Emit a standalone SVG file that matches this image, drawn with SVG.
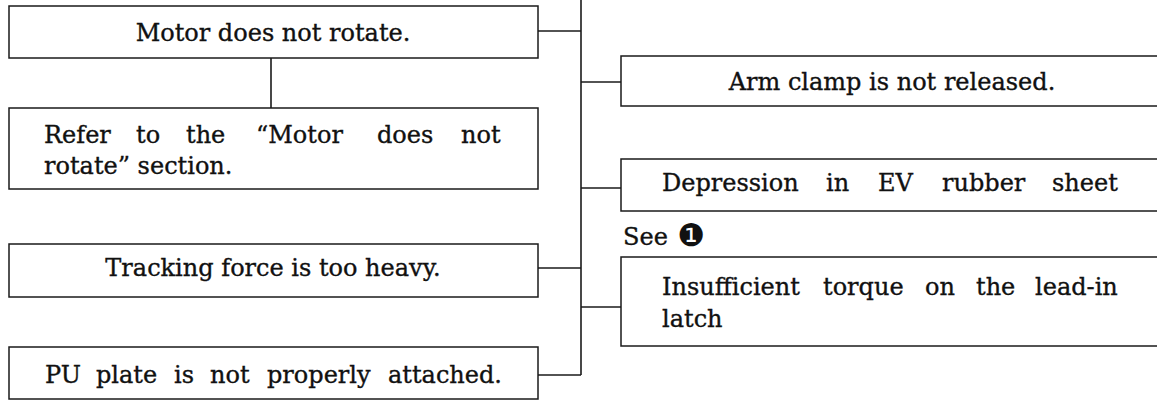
<svg xmlns="http://www.w3.org/2000/svg" width="1157" height="400" viewBox="0 0 1157 400">
<style>
.box{fill:#fff;stroke:#1a1a1a;stroke-width:1.5}
.ln{fill:none;stroke:#1a1a1a;stroke-width:1.6}
.t{font-family:"DejaVu Serif","Liberation Serif",serif;font-size:24px;fill:#111;stroke:#111;stroke-width:0.35}
.c{text-anchor:middle}
</style>
<rect width="1157" height="400" fill="#fff"/>
<g id="connectors">
<path class="ln" d="M581 0V375"/>
<path class="ln" d="M538 31H581"/>
<path class="ln" d="M538 268H581"/>
<path class="ln" d="M538 375H581"/>
<path class="ln" d="M581 82H621"/>
<path class="ln" d="M581 188H621"/>
<path class="ln" d="M581 307H621"/>
<path class="ln" d="M271 58V108" stroke-width="1.2"/>
</g>
<g id="motor">
<rect class="box" x="9" y="6" width="529" height="52"/>
<text class="t c" x="273" y="41">Motor does not rotate.</text>
</g>
<g id="refer">
<rect class="box" x="9" y="108" width="529" height="81"/>
<text class="t" y="143"><tspan x="44">Refer</tspan><tspan x="136">to</tspan><tspan x="186">the</tspan><tspan x="256">“Motor</tspan><tspan x="377">does</tspan><tspan x="461">not</tspan></text>
<text class="t" x="44" y="174">rotate” section.</text>
</g>
<g id="tracking">
<rect class="box" x="9" y="244" width="529" height="53"/>
<text class="t c" x="273" y="276">Tracking force is too heavy.</text>
</g>
<g id="pu">
<rect class="box" x="9" y="347" width="529" height="52"/>
<text class="t" y="383"><tspan x="45">PU</tspan><tspan x="96">plate</tspan><tspan x="174">is</tspan><tspan x="210">not</tspan><tspan x="267">properly</tspan><tspan x="388">attached.</tspan></text>
</g>
<g id="arm">
<rect class="box" x="621" y="56" width="545" height="50"/>
<text class="t c" x="892" y="90">Arm clamp is not released.</text>
</g>
<g id="depression">
<rect class="box" x="621" y="159" width="545" height="52"/>
<text class="t" y="191"><tspan x="662">Depression</tspan><tspan x="826">in</tspan><tspan x="878">EV</tspan><tspan x="942">rubber</tspan><tspan x="1052">sheet</tspan></text>
</g>
<g id="see-note">
<text class="t" x="623" y="245">See <tspan font-family="DejaVu Sans, sans-serif" font-size="31" dx="2" dy="1" stroke-width="0">❶</tspan></text>
</g>
<g id="insufficient">
<rect class="box" x="621" y="257" width="545" height="89"/>
<text class="t" y="295"><tspan x="662">Insufficient</tspan><tspan x="823">torque</tspan><tspan x="925">on</tspan><tspan x="976">the</tspan><tspan x="1035">lead-in</tspan></text>
<text class="t" x="662" y="327">latch</text>
</g>
</svg>
